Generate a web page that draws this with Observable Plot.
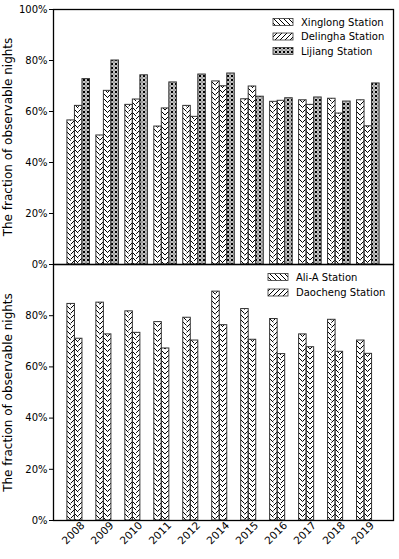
<!DOCTYPE html>
<html><head><meta charset="utf-8">
<script src="https://cdn.jsdelivr.net/npm/d3@7"></script>
<script src="https://cdn.jsdelivr.net/npm/@observablehq/plot@0.6"></script>
<style>
body{margin:0;background:#fff;font-family:"DejaVu Sans",sans-serif;}
#wrap{position:relative;width:399px;height:559px;overflow:hidden;}
#top,#bottom{position:absolute;left:0;}
#top{top:0}
#bottom{top:264px}
</style></head><body>
<svg width="0" height="0" style="position:absolute">
  <defs>
    <pattern id="bs" patternUnits="userSpaceOnUse" width="5" height="5">
      <path d="M0,0L5,5M-1,4L1,6M4,-1L6,1" stroke="#000" stroke-width="1"/>
    </pattern>
    <pattern id="fs" patternUnits="userSpaceOnUse" width="5" height="5">
      <path d="M0,5L5,0M-1,1L1,-1M4,6L6,4" stroke="#000" stroke-width="1"/>
    </pattern>
    <pattern id="xo" patternUnits="userSpaceOnUse" width="4" height="4">
      <rect width="4" height="4" fill="#fff"/>
      <path d="M0,0L4,4M4,0L0,4" stroke="#000" stroke-width="1"/>
      <circle cx="2" cy="2" r="1.2" fill="#fff" stroke="#000" stroke-width="0.5"/>
      <circle cx="0" cy="0" r="1" fill="#000"/>
      <circle cx="4" cy="0" r="1" fill="#000"/>
      <circle cx="0" cy="4" r="1" fill="#000"/>
      <circle cx="4" cy="4" r="1" fill="#000"/>
    </pattern>
  </defs>
</svg>
<div id="wrap"><div id="top"></div><div id="bottom"></div></div>
<script>
const years = ["2008","2009","2010","2011","2012","2014","2015","2016","2017","2018","2019"];
const xinglong = [56.5, 50.6, 62.6, 54.1, 62.2, 71.8, 64.8, 63.8, 64.4, 65.0, 64.4];
const delingha = [62.2, 68.1, 64.7, 61.2, 57.9, 69.9, 69.8, 64.2, 62.6, 59.2, 54.2];
const lijiang  = [72.7, 80.0, 74.2, 71.4, 74.5, 74.9, 65.8, 65.2, 65.5, 63.9, 71.0];
const aliA     = [84.6, 85.1, 81.7, 77.5, 79.2, 89.4, 82.6, 78.7, 72.7, 78.4, 70.3];
const daocheng = [71.0, 72.7, 73.3, 67.2, 70.3, 76.3, 70.6, 65.0, 67.7, 65.9, 65.1];
const topNames = ["Xinglong Station", "Delingha Station", "Lijiang Station"];
const bottomNames = ["Ali-A Station", "Daocheng Station"];
const yTicksTop = [0, 20, 40, 60, 80, 100];
const yTicksBottom = [0, 20, 40, 60, 80];
const yLabel = "The fraction of observable nights";

const W = 399, ML = 53, MR = 6;
const pIn = 0.22, pOut = 0.48;
const step = (W - ML - MR) / (years.length - pIn + 2 * pOut);
const bw = step * (1 - pIn);
const w = bw / 3;

function rows(arr) { return years.map((year, j) => ({year, value: arr[j]})); }

function seriesMarks(arr, i, kind) {
  const data = rows(arr);
  const left = i * w, right = bw - (i + 1) * w;
  const marks = [];
  if (kind === "chevron") {
    marks.push(Plot.barY(data, {x: "year", y: "value", fill: "url(#bs)", insetLeft: left, insetRight: right + w / 2}));
    marks.push(Plot.barY(data, {x: "year", y: "value", fill: "url(#fs)", insetLeft: left + w / 2, insetRight: right}));
  } else {
    marks.push(Plot.barY(data, {x: "year", y: "value", fill: "url(#xo)", insetLeft: left, insetRight: right}));
  }
  marks.push(Plot.barY(data, {x: "year", y: "value", fill: "none", stroke: "#333", strokeWidth: 1, insetLeft: left, insetRight: right}));
  return marks;
}

const common = {
  width: W, marginLeft: ML, marginRight: MR,
  style: {fontFamily: "DejaVu Sans", fontSize: "10px", color: "#000", background: "transparent", overflow: "visible"},
  x: {type: "band", domain: years, paddingInner: pIn, paddingOuter: pOut, round: false, axis: null},
};

function yAxes(ticks) {
  return [
    Plot.axisY({ticks, tickFormat: d => d + "%", tickSize: 4, tickPadding: 2, fontSize: 10, label: null}),
    Plot.axisY({ticks: [], label: yLabel, labelAnchor: "center", labelArrow: "none", labelOffset: 50, fontSize: 12})
  ];
}

const topPlot = Plot.plot({
  ...common,
  height: 265, marginTop: 9, marginBottom: 1,
  y: {domain: [0, 100], axis: null},
  marks: [
    ...seriesMarks(xinglong, 0, "chevron"),
    ...seriesMarks(delingha, 1, "chevron"),
    ...seriesMarks(lijiang, 2, "cross"),
    ...yAxes(yTicksTop),
    Plot.frame({stroke: "#000", strokeWidth: 1.3})
  ]
});

const bottomPlot = Plot.plot({
  ...common,
  height: 295, marginTop: 0, marginBottom: 39,
  y: {domain: [0, 100], axis: null},
  marks: [
    ...seriesMarks(aliA, 0, "chevron"),
    ...seriesMarks(daocheng, 1, "chevron"),
    ...yAxes(yTicksBottom),
    Plot.text(years, {x: d => d, frameAnchor: "bottom", dy: 15, dx: -3, rotate: -45, textAnchor: "middle", fontSize: 10.5}),
    Plot.frame({stroke: "#000", strokeWidth: 1.3})
  ]
});

document.getElementById("top").appendChild(topPlot);
document.getElementById("bottom").appendChild(bottomPlot);

function legend(svgNode, names, fills, x0, textX, y0, dy) {
  const svg = d3.select(svgNode);
  const g = svg.append("g").attr("font-family", "DejaVu Sans").attr("font-size", 10).attr("text-anchor", "start");
  names.forEach((name, i) => {
    const cy = y0 + i * dy;
    g.append("rect").attr("x", x0).attr("y", cy - 3.5).attr("width", 20).attr("height", 7)
      .attr("fill", fills[i]).attr("stroke", "#333").attr("stroke-width", 0.8);
    g.append("text").attr("x", textX).attr("y", cy).attr("dy", "0.35em").attr("fill", "#000").text(name);
  });
}
legend(topPlot, topNames, ["url(#bs)", "url(#fs)", "url(#xo)"], 273, 301, 22, 14.5);
legend(bottomPlot, bottomNames, ["url(#bs)", "url(#fs)"], 268, 296, 13, 15.5);
</script>
</body></html>
